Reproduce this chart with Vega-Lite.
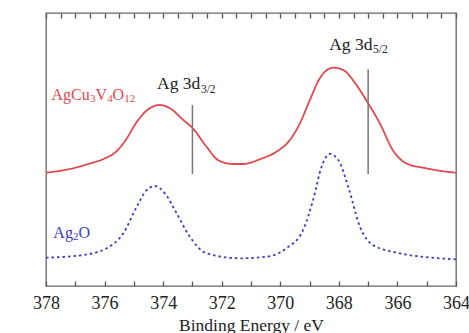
{
  "$schema": "https://vega.github.io/schema/vega-lite/v6.json",
  "width": 410,
  "height": 273,
  "autosize": {"type": "none"},
  "padding": {"left": 46, "top": 13, "right": 13, "bottom": 47},
  "background": "white",
  "config": {
    "view": {"stroke": "#666", "strokeWidth": 1.3},
    "font": "Liberation Serif",
    "axis": {"labelFont": "Liberation Serif", "titleFont": "Liberation Serif", "labelColor": "#222", "titleColor": "#222", "titleFontWeight": "normal", "grid": false, "domain": false, "ticks": true}
  },
  "datasets": {
    "spectra": [
      {"e": 378.0, "i": 113.3, "s": "AgCu3V4O12"},
      {"e": 377.5, "i": 115.3, "s": "AgCu3V4O12"},
      {"e": 377.0, "i": 118.3, "s": "AgCu3V4O12"},
      {"e": 376.5, "i": 122.5, "s": "AgCu3V4O12"},
      {"e": 376.0, "i": 127.5, "s": "AgCu3V4O12"},
      {"e": 375.6, "i": 134.5, "s": "AgCu3V4O12"},
      {"e": 375.3, "i": 145, "s": "AgCu3V4O12"},
      {"e": 374.9, "i": 164, "s": "AgCu3V4O12"},
      {"e": 374.56, "i": 175.5, "s": "AgCu3V4O12"},
      {"e": 374.11, "i": 181, "s": "AgCu3V4O12"},
      {"e": 373.77, "i": 177.7, "s": "AgCu3V4O12"},
      {"e": 373.31, "i": 166, "s": "AgCu3V4O12"},
      {"e": 372.99, "i": 157.7, "s": "AgCu3V4O12"},
      {"e": 372.52, "i": 139.3, "s": "AgCu3V4O12"},
      {"e": 372.1, "i": 125.5, "s": "AgCu3V4O12"},
      {"e": 371.61, "i": 122, "s": "AgCu3V4O12"},
      {"e": 371.27, "i": 122, "s": "AgCu3V4O12"},
      {"e": 370.7, "i": 126.7, "s": "AgCu3V4O12"},
      {"e": 370.13, "i": 134.3, "s": "AgCu3V4O12"},
      {"e": 369.67, "i": 146, "s": "AgCu3V4O12"},
      {"e": 369.33, "i": 162.7, "s": "AgCu3V4O12"},
      {"e": 368.99, "i": 186, "s": "AgCu3V4O12"},
      {"e": 368.65, "i": 207.7, "s": "AgCu3V4O12"},
      {"e": 368.19, "i": 218.3, "s": "AgCu3V4O12"},
      {"e": 367.85, "i": 216, "s": "AgCu3V4O12"},
      {"e": 367.4, "i": 201, "s": "AgCu3V4O12"},
      {"e": 367.0, "i": 182.7, "s": "AgCu3V4O12"},
      {"e": 366.6, "i": 162.7, "s": "AgCu3V4O12"},
      {"e": 366.16, "i": 136, "s": "AgCu3V4O12"},
      {"e": 365.7, "i": 122.7, "s": "AgCu3V4O12"},
      {"e": 365.01, "i": 117.7, "s": "AgCu3V4O12"},
      {"e": 364.5, "i": 115, "s": "AgCu3V4O12"},
      {"e": 364.0, "i": 113.3, "s": "AgCu3V4O12"},
      {"e": 378.0, "i": 28.3, "s": "Ag2O"},
      {"e": 376.73, "i": 31, "s": "Ag2O"},
      {"e": 375.93, "i": 37.7, "s": "Ag2O"},
      {"e": 375.36, "i": 52.7, "s": "Ag2O"},
      {"e": 374.9, "i": 79.3, "s": "Ag2O"},
      {"e": 374.56, "i": 96, "s": "Ag2O"},
      {"e": 374.28, "i": 100, "s": "Ag2O"},
      {"e": 373.94, "i": 92.7, "s": "Ag2O"},
      {"e": 373.54, "i": 72.7, "s": "Ag2O"},
      {"e": 373.09, "i": 49.3, "s": "Ag2O"},
      {"e": 372.52, "i": 32.7, "s": "Ag2O"},
      {"e": 371.38, "i": 27.7, "s": "Ag2O"},
      {"e": 370.47, "i": 29.3, "s": "Ag2O"},
      {"e": 369.79, "i": 37.7, "s": "Ag2O"},
      {"e": 369.22, "i": 56, "s": "Ag2O"},
      {"e": 368.88, "i": 86, "s": "Ag2O"},
      {"e": 368.59, "i": 119.3, "s": "Ag2O"},
      {"e": 368.31, "i": 132, "s": "Ag2O"},
      {"e": 368.02, "i": 126, "s": "Ag2O"},
      {"e": 367.68, "i": 99.3, "s": "Ag2O"},
      {"e": 367.28, "i": 59.3, "s": "Ag2O"},
      {"e": 366.84, "i": 41, "s": "Ag2O"},
      {"e": 365.92, "i": 32.7, "s": "Ag2O"},
      {"e": 364.82, "i": 28.3, "s": "Ag2O"},
      {"e": 364.0, "i": 26.7, "s": "Ag2O"}
    ],
    "markers": [
      {"e": 373.0, "lo": 112, "hi": 181},
      {"e": 367.0, "lo": 112, "hi": 216.7}
    ],
    "labels": [
      {"e": 374.21, "i": 196.7, "t": "Ag 3d", "s": "peak", "part": "main"},
      {"e": 372.71, "i": 193.3, "t": "3/2", "s": "peak", "part": "sub"},
      {"e": 368.33, "i": 236, "t": "Ag 3d", "s": "peak", "part": "main"},
      {"e": 366.83, "i": 232.7, "t": "5/2", "s": "peak", "part": "sub"},
      {"e": 377.81, "i": 186, "t": "AgCu", "s": "AgCu3V4O12", "part": "lab"},
      {"e": 376.5, "i": 184, "t": "3", "s": "AgCu3V4O12", "part": "lsub"},
      {"e": 376.31, "i": 186, "t": "V", "s": "AgCu3V4O12", "part": "lab"},
      {"e": 375.91, "i": 184, "t": "4", "s": "AgCu3V4O12", "part": "lsub"},
      {"e": 375.73, "i": 186, "t": "O", "s": "AgCu3V4O12", "part": "lab"},
      {"e": 375.33, "i": 184, "t": "12", "s": "AgCu3V4O12", "part": "lsub"},
      {"e": 377.75, "i": 47.7, "t": "Ag", "s": "Ag2O", "part": "lab"},
      {"e": 377.08, "i": 45.8, "t": "2", "s": "Ag2O", "part": "lsub"},
      {"e": 376.89, "i": 47.7, "t": "O", "s": "Ag2O", "part": "lab"}
    ]
  },
  "layer": [
    {
      "data": {"name": "spectra"},
      "mark": {"type": "line", "interpolate": "monotone", "strokeWidth": 1.8},
      "encoding": {
        "x": {"field": "e", "type": "quantitative",
          "scale": {"domain": [364, 378], "reverse": true, "nice": false, "zero": false},
          "axis": {"orient": "bottom", "title": "Binding Energy / eV", "titleFontSize": 17.5, "titlePadding": 4, "offset": -5, "zindex": 2,
            "values": [364,364.5,365,365.5,366,366.5,367,367.5,368,368.5,369,369.5,370,370.5,371,371.5,372,372.5,373,373.5,374,374.5,375,375.5,376,376.5,377,377.5,378],
            "labelExpr": "datum.value % 2 === 0 ? datum.label : ''", "format": "d",
            "labelFontSize": 18, "labelPadding": 8, "labelFlush": false, "labelOverlap": false,
            "ticks": true, "tickColor": "#555", "tickOpacity": 1, "tickWidth": 1.3, "tickSize": 5}},
        "y": {"field": "i", "type": "quantitative",
          "scale": {"domain": [0, 273], "nice": false, "zero": false},
          "axis": {"title": "Intensity (arb.units)", "titleFontSize": 17.5, "labels": false, "ticks": false, "titlePadding": 12}},
        "color": {"field": "s", "type": "nominal", "legend": null,
          "scale": {"domain": ["AgCu3V4O12", "Ag2O", "peak"], "range": ["#e4474b", "#3c3cc6", "#222222"]}},
        "strokeDash": {"field": "s", "type": "nominal", "legend": null,
          "scale": {"domain": ["AgCu3V4O12", "Ag2O"], "range": [[1, 0], [2.5, 3]]}}
      }
    },
    {
      "data": {"name": "markers"},
      "mark": {"type": "rule", "color": "#777", "strokeWidth": 1.5},
      "encoding": {
        "x": {"field": "e", "type": "quantitative",
          "axis": {"orient": "top", "title": null, "labels": false, "offset": -5, "zindex": 2,
            "values": [364,364.5,365,365.5,366,366.5,367,367.5,368,368.5,369,369.5,370,370.5,371,371.5,372,372.5,373,373.5,374,374.5,375,375.5,376,376.5,377,377.5,378],
            "ticks": true, "tickColor": "#555", "tickOpacity": 1, "tickWidth": 1.3, "tickSize": 5}},
        "y": {"field": "lo", "type": "quantitative", "axis": null},
        "y2": {"field": "hi"}
      }
    },
    {
      "data": {"name": "labels"},
      "transform": [{"filter": "datum.part === 'main'"}],
      "mark": {"type": "text", "align": "left", "baseline": "alphabetic", "fontSize": 17.5, "font": "Liberation Serif"},
      "encoding": {
        "x": {"field": "e", "type": "quantitative", "axis": null},
        "y": {"field": "i", "type": "quantitative", "axis": null},
        "text": {"field": "t"},
        "color": {"field": "s", "type": "nominal", "legend": null}
      }
    },
    {
      "data": {"name": "labels"},
      "transform": [{"filter": "datum.part === 'lab'"}],
      "mark": {"type": "text", "align": "left", "baseline": "alphabetic", "fontSize": 16, "font": "Liberation Serif"},
      "encoding": {
        "x": {"field": "e", "type": "quantitative", "axis": null},
        "y": {"field": "i", "type": "quantitative", "axis": null},
        "text": {"field": "t"},
        "color": {"field": "s", "type": "nominal", "legend": null}
      }
    },
    {
      "data": {"name": "labels"},
      "transform": [{"filter": "datum.part === 'sub'"}],
      "mark": {"type": "text", "align": "left", "baseline": "alphabetic", "fontSize": 11.5, "font": "Liberation Serif"},
      "encoding": {
        "x": {"field": "e", "type": "quantitative", "axis": null},
        "y": {"field": "i", "type": "quantitative", "axis": null},
        "text": {"field": "t"},
        "color": {"field": "s", "type": "nominal", "legend": null}
      }
    },
    {
      "data": {"name": "labels"},
      "transform": [{"filter": "datum.part === 'lsub'"}],
      "mark": {"type": "text", "align": "left", "baseline": "alphabetic", "fontSize": 11, "font": "Liberation Serif"},
      "encoding": {
        "x": {"field": "e", "type": "quantitative", "axis": null},
        "y": {"field": "i", "type": "quantitative", "axis": null},
        "text": {"field": "t"},
        "color": {"field": "s", "type": "nominal", "legend": null}
      }
    }
  ]
}
